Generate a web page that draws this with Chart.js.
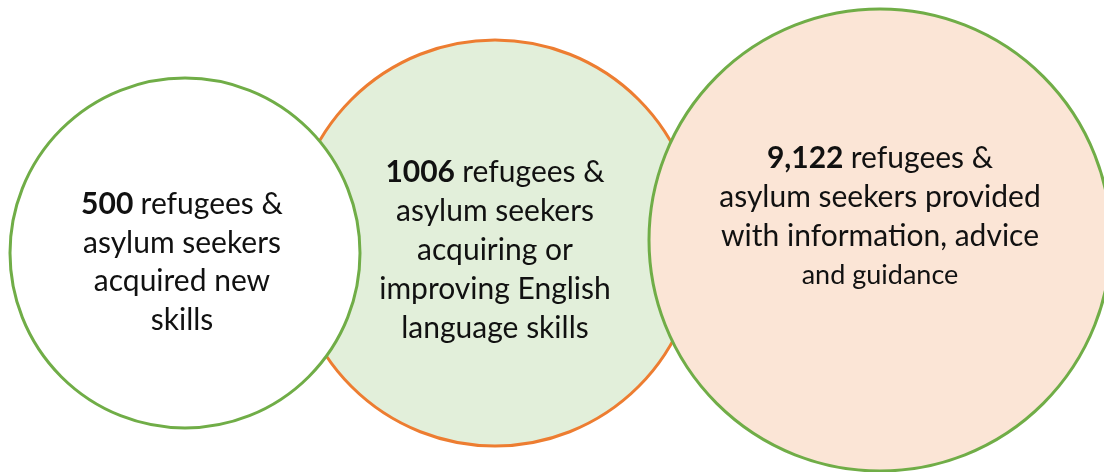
<!DOCTYPE html>
<html>
<head>
<meta charset="utf-8">
<script src="https://cdn.jsdelivr.net/npm/chart.js@4"></script>
<style>
  html, body { margin: 0; padding: 0; background: #ffffff; }
  #wrap { width: 1104px; height: 472px; }
</style>
</head>
<body>
<div id="wrap"><canvas id="c" width="1104" height="472"></canvas></div>
<script>
// ---- data (drawing order: middle first so the outer two sit on top) ----
const categories = ['English language', 'New skills', 'Information & advice'];
const values = ['1006', '500', '9,122'];
const bubbleX = [495, 185, 880];
const bubbleY = [243, 253, 240];
const bubbleR = [203, 175, 231];
const textLines = [
  ['refugees &', 'asylum seekers', 'acquiring or', 'improving English', 'language skills'],
  ['refugees &', 'asylum seekers', 'acquired new', 'skills'],
  ['refugees &', 'asylum seekers provided', 'with information, advice', 'and guidance']
];

// ---- styles ----
const fills = ['#E2EFDA', '#FFFFFF', '#FBE5D6'];
const strokes = ['#ED7D31', '#70AD47', '#70AD47'];
const textShiftX = [0, -3, 0];
const textShift = [7, 9.5, -23];
const lineGap = [39, 38.5, 39];
const smallLastLine = [false, false, true];
const FONT = 'Lato, "Open Sans", sans-serif';
const MAIN_SIZE = 30;
const SMALL_SIZE = 27;

const points = categories.map((c, i) => ({ x: bubbleX[i], y: bubbleY[i], r: bubbleR[i] }));

const labelPlugin = {
  id: 'bubbleLabels',
  afterDatasetsDraw(chart) {
    const ctx = chart.ctx;
    const meta = chart.getDatasetMeta(0);
    ctx.save();
    ctx.fillStyle = '#111111';
    ctx.textBaseline = 'middle';
    meta.data.forEach((el, i) => {
      const lines = textLines[i];
      const n = lines.length;
      const gap = lineGap[i];
      const cx = el.x + textShiftX[i];
      const startY = el.y + textShift[i] - gap * (n - 1) / 2;
      lines.forEach((line, j) => {
        const y = startY + j * gap;
        if (j === 0) {
          const boldFont = 'bold ' + MAIN_SIZE + 'px ' + FONT;
          const normFont = MAIN_SIZE + 'px ' + FONT;
          const a = values[i] + ' ';
          ctx.font = boldFont;
          const wa = ctx.measureText(a).width;
          ctx.font = normFont;
          const wb = ctx.measureText(line).width;
          let x = cx - (wa + wb) / 2;
          ctx.textAlign = 'left';
          ctx.font = boldFont;
          ctx.fillText(a, x, y);
          ctx.font = normFont;
          ctx.fillText(line, x + wa, y);
        } else {
          const small = smallLastLine[i] && j === n - 1;
          ctx.font = (small ? SMALL_SIZE : MAIN_SIZE) + 'px ' + FONT;
          ctx.textAlign = 'center';
          ctx.fillText(line, cx, y);
        }
      });
    });
    ctx.restore();
  }
};

new Chart(document.getElementById('c'), {
  type: 'bubble',
  data: {
    datasets: [{
      label: 'Outcomes',
      data: points,
      backgroundColor: fills,
      borderColor: strokes,
      borderWidth: 3,
      hoverBackgroundColor: fills,
      hoverBorderColor: strokes,
      clip: false
    }]
  },
  options: {
    responsive: false,
    animation: false,
    events: [],
    layout: { padding: 0, autoPadding: false },
    plugins: { legend: { display: false }, tooltip: { enabled: false } },
    scales: {
      x: { type: 'linear', min: 0, max: 1104, display: false },
      y: { type: 'linear', min: 0, max: 472, reverse: true, display: false }
    }
  },
  plugins: [labelPlugin]
});
</script>
</body>
</html>
